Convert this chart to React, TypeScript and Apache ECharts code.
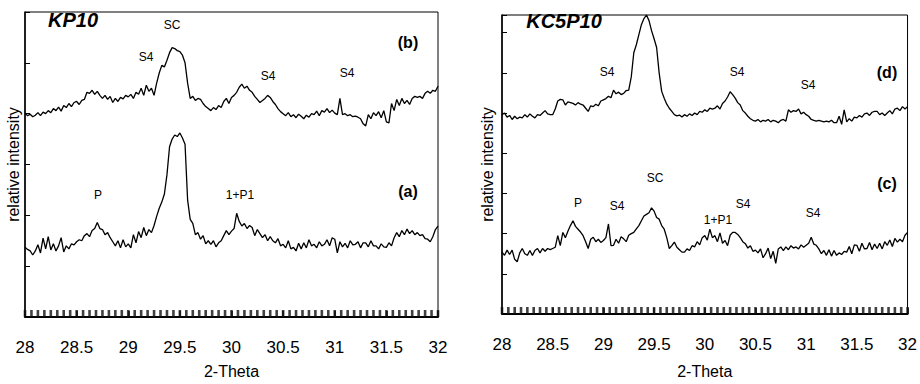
import React, { useEffect, useRef } from "react";
import * as echarts from "echarts";

// Sampling grid of 2-Theta (deg), step 0.025 from 28 to 32
const THETA: number[] = Array.from({ length: 161 }, (_, i) => +(28 + i * 0.025).toFixed(3));
// Positions of the dense inner ticks along the 2-Theta axis (every 1/16 deg)
const TICK_POS: number[] = Array.from({ length: 65 }, (_, i) => 28 + i * 0.0625);

// KP10 (b) upper trace
const KP10_B = [
  4.01, 3.96, 3.99, 3.94, 3.97, 4.02, 3.96, 4.03, 4.0, 4.06, 4.02, 4.1, 4.06, 4.13, 4.05, 4.16,
  4.12, 4.2, 4.14, 4.22, 4.24, 4.18, 4.26, 4.28, 4.42, 4.4, 4.46, 4.38, 4.44, 4.36, 4.3, 4.36,
  4.28, 4.34, 4.22, 4.3, 4.24, 4.32, 4.29, 4.36, 4.33, 4.38, 4.3, 4.42, 4.38, 4.5, 4.36, 4.56,
  4.44, 4.5, 4.36, 4.6, 4.8, 4.95, 4.92, 5.05, 5.2, 5.3, 5.28, 5.24, 5.22, 5.15, 5.0, 4.6,
  4.3, 4.34, 4.26, 4.3, 4.28, 4.2, 4.14, 4.1, 4.06, 4.12, 4.08, 4.16, 4.12, 4.24, 4.3, 4.2,
  4.32, 4.36, 4.42, 4.52, 4.58, 4.5, 4.54, 4.46, 4.42, 4.34, 4.28, 4.22, 4.26, 4.3, 4.36, 4.32,
  4.24, 4.18, 4.1, 4.04, 4.0, 3.96, 4.02, 3.94, 3.98, 3.92, 3.99, 3.95, 3.9, 3.97, 3.93, 4.0,
  3.98, 4.05, 3.96, 4.06, 4.03, 4.1, 4.02, 4.07, 4.01, 3.98, 4.3, 3.98, 4.0, 3.96, 3.98, 3.94,
  3.95, 3.93, 3.9, 3.8, 3.76, 3.98, 3.9, 4.02, 3.96, 4.04, 3.92, 4.06, 3.84, 3.82, 4.2, 4.06,
  4.28, 4.16, 4.3, 4.2, 4.26, 4.18, 4.3, 4.34, 4.32, 4.34, 4.3, 4.4, 4.44, 4.4, 4.46, 4.44,
  4.54,
];

// KP10 (a) lower trace
const KP10_A = [
  1.37, 1.33, 1.3, 1.22, 1.3, 1.42, 1.26, 1.55, 1.34, 1.58, 1.32, 1.44, 1.3, 1.4, 1.56, 1.28,
  1.4, 1.34, 1.44, 1.42, 1.48, 1.52, 1.5, 1.6, 1.64, 1.58, 1.7, 1.74, 1.86, 1.74, 1.72, 1.62,
  1.66, 1.56, 1.48, 1.4, 1.5, 1.36, 1.52, 1.38, 1.44, 1.36, 1.62, 1.46, 1.68, 1.56, 1.76, 1.6,
  1.72, 1.66, 1.8, 1.98, 2.14, 2.26, 2.42, 2.8, 3.35, 3.5, 3.58, 3.55, 3.62, 3.52, 3.4, 2.3,
  1.92, 1.84, 1.62, 1.66, 1.53, 1.6, 1.44, 1.5, 1.43, 1.5, 1.38, 1.46, 1.5, 1.6, 1.7, 1.62,
  1.69, 1.74, 2.04, 1.88, 1.79, 1.84, 1.74, 1.8, 1.76, 1.6, 1.72, 1.64, 1.56, 1.62, 1.5, 1.58,
  1.5, 1.46, 1.54, 1.4, 1.43, 1.36, 1.5, 1.34, 1.37, 1.3, 1.45, 1.34, 1.46, 1.36, 1.52, 1.4,
  1.43, 1.36, 1.48, 1.4, 1.43, 1.52, 1.4, 1.56, 1.53, 1.26, 1.48, 1.38, 1.45, 1.36, 1.5, 1.42,
  1.43, 1.48, 1.36, 1.46, 1.46, 1.38, 1.5, 1.4, 1.4, 1.34, 1.44, 1.38, 1.37, 1.46, 1.4, 1.56,
  1.66, 1.58, 1.7, 1.62, 1.73, 1.64, 1.7, 1.62, 1.66, 1.6, 1.62, 1.54, 1.53, 1.48, 1.58, 1.72,
  1.79,
];

// KC5P10 (d) upper trace
const KC5P10_D = [
  4.96, 5.0, 4.9, 4.94, 4.84, 4.92, 4.86, 4.9, 4.88, 4.96, 4.9, 4.98, 4.92, 4.88, 4.96, 4.94,
  5.0, 5.06, 4.98, 4.96, 4.96, 5.1, 5.3, 5.34, 5.33, 5.2, 5.28, 5.26, 5.24, 5.2, 5.26, 5.22,
  5.2, 5.12, 5.04, 5.18, 5.16, 5.22, 5.18, 5.3, 5.33, 5.36, 5.42, 5.38, 5.57, 5.48, 5.52, 5.46,
  5.49, 5.56, 5.57, 5.9, 6.5, 6.7, 6.95, 7.2, 7.35, 7.44, 7.3, 7.05, 6.85, 6.63, 6.0, 5.54,
  5.37, 5.22, 5.12, 5.04, 4.96, 4.93, 4.95, 4.9, 4.96, 4.92, 4.98, 4.94, 5.0, 4.96, 5.04, 5.02,
  5.08, 5.04, 5.12, 5.1, 5.12, 5.18, 5.1, 5.24, 5.3, 5.4, 5.53, 5.46, 5.37, 5.26, 5.2, 5.06,
  5.0, 4.92, 4.86, 4.82, 4.8, 4.84, 4.78, 4.82, 4.8, 4.84, 4.78, 4.82, 4.8, 4.76, 4.82, 4.84,
  4.8, 5.08, 5.02, 5.06, 5.04, 5.1, 4.98, 5.02, 4.96, 4.92, 4.84, 4.82, 4.8, 4.82, 4.8, 4.78,
  4.8, 4.78, 4.82, 4.76, 4.76, 4.92, 4.72, 5.08, 4.78, 4.86, 4.8, 4.9, 4.88, 4.94, 4.9, 4.98,
  5.0, 4.94, 5.02, 5.04, 5.04, 4.96, 5.0, 4.94, 5.0, 5.06, 4.98, 5.1, 5.12, 5.06, 5.16, 5.1,
  5.16,
];

// KC5P10 (c) lower trace
const KC5P10_C = [
  1.54, 1.46, 1.59, 1.48, 1.59, 1.36, 1.3, 1.52, 1.63, 1.5, 1.46, 1.58, 1.46, 1.58, 1.63, 1.52,
  1.63, 1.56, 1.63, 1.6, 1.63, 1.66, 1.95, 1.7, 2.03, 1.9, 2.06, 2.2, 2.32, 2.18, 2.11, 2.04,
  1.95, 1.8, 1.63, 1.86, 1.91, 1.8, 1.86, 1.78, 1.83, 1.9, 2.24, 1.7, 1.71, 1.86, 1.76, 1.92,
  1.87, 1.8, 1.96, 2.0, 2.03, 2.12, 2.2, 2.32, 2.44, 2.48, 2.52, 2.64, 2.56, 2.4, 2.36, 2.2,
  2.11, 1.9, 1.63, 1.7, 1.79, 1.66, 1.6, 1.54, 1.54, 1.62, 1.58, 1.7, 1.67, 1.8, 1.72, 1.9,
  1.95, 1.84, 2.11, 1.9, 1.95, 1.8, 2.02, 1.76, 1.83, 1.7, 1.96, 2.03, 2.03, 1.98, 1.9, 1.8,
  1.75, 1.64, 1.7, 1.56, 1.59, 1.52, 1.62, 1.4, 1.5, 1.64, 1.38, 1.56, 1.26, 1.62, 1.67, 1.58,
  1.67, 1.6, 1.7, 1.64, 1.67, 1.62, 1.72, 1.66, 1.71, 1.76, 1.91, 1.74, 1.71, 1.62, 1.5, 1.58,
  1.46, 1.6, 1.44, 1.58, 1.46, 1.52, 1.48, 1.56, 1.54, 1.68, 1.5, 1.72, 1.71, 1.56, 1.76, 1.62,
  1.63, 1.78, 1.6, 1.74, 1.63, 1.76, 1.62, 1.8, 1.71, 1.84, 1.68, 1.88, 1.79, 1.86, 1.8, 1.96,
  2.03,
];

const FONT = "'Liberation Sans', Arial, sans-serif";

type Note = { text: string; x: number; y: number; size?: number; bold?: boolean; italic?: boolean };

const NOTES: Note[] = [
  { text: "KP10", x: 73, y: 20, size: 20, bold: true, italic: true },
  { text: "SC", x: 172, y: 25 },
  { text: "S4", x: 146, y: 57 },
  { text: "S4", x: 268, y: 76 },
  { text: "S4", x: 347, y: 73 },
  { text: "(b)", x: 408, y: 42, size: 16, bold: true },
  { text: "P", x: 98, y: 195 },
  { text: "1+P1", x: 240, y: 195 },
  { text: "(a)", x: 408, y: 191, size: 16, bold: true },
  { text: "KC5P10", x: 564, y: 21, size: 20, bold: true, italic: true },
  { text: "S4", x: 607, y: 72 },
  { text: "S4", x: 737, y: 72 },
  { text: "S4", x: 808, y: 85 },
  { text: "(d)", x: 887, y: 72, size: 16, bold: true },
  { text: "SC", x: 655, y: 178 },
  { text: "(c)", x: 887, y: 183, size: 16, bold: true },
  { text: "P", x: 578, y: 203 },
  { text: "S4", x: 617, y: 206 },
  { text: "1+P1", x: 718, y: 220 },
  { text: "S4", x: 743, y: 204 },
  { text: "S4", x: 813, y: 213 },
];

function xAxisCfg(gridIndex: number, nameGap: number) {
  return {
    type: "value",
    gridIndex,
    min: 28,
    max: 32,
    interval: 0.5,
    name: "2-Theta",
    nameLocation: "middle",
    nameGap,
    nameTextStyle: { fontSize: 16, color: "#000", fontFamily: FONT },
    axisLine: { show: true, onZero: false, lineStyle: { color: "#000", width: 2 } },
    axisTick: { show: true, inside: true, length: 6, lineStyle: { color: "#000", width: 1.5 } },
    axisLabel: { show: true, margin: 22, fontSize: 17, color: "#000", fontFamily: FONT },
    splitLine: { show: false },
  };
}

function yAxisCfg(gridIndex: number, max: number, nameGap: number) {
  return {
    type: "value",
    gridIndex,
    min: 0,
    max,
    interval: 1,
    name: "relative intensity",
    nameLocation: "middle",
    nameGap,
    nameTextStyle: { fontSize: 16, color: "#000", fontFamily: FONT },
    axisLine: { show: true, lineStyle: { color: "#000", width: 1.5 } },
    axisTick: { show: true, inside: true, length: 5, lineStyle: { color: "#000", width: 1 } },
    axisLabel: { show: false },
    splitLine: { show: false },
  };
}

function lineSeries(x: number, y: number[]) {
  return {
    type: "line",
    xAxisIndex: x,
    yAxisIndex: x,
    data: THETA.map((t, i) => [t, y[i]]),
    showSymbol: false,
    symbol: "none",
    lineStyle: { color: "#000", width: 1.3 },
    silent: true,
  };
}

function tickBand(x: number) {
  return {
    type: "scatter",
    xAxisIndex: x,
    yAxisIndex: x,
    data: TICK_POS.map((t) => [t, 0]),
    symbol: "rect",
    symbolSize: [2.6, 7],
    symbolOffset: [0, -3.5],
    itemStyle: { color: "#111" },
    clip: false,
    silent: true,
    z: 5,
  };
}

export default function App() {
  const ref = useRef<HTMLDivElement>(null);
  useEffect(() => {
    if (!ref.current) return;
    const chart = echarts.init(ref.current, undefined, { renderer: "svg" });
    chart.setOption({
      animation: false,
      backgroundColor: "#fff",
      textStyle: { fontFamily: FONT },
      grid: [
        { left: 25, top: 12, width: 413, height: 306, show: true, borderColor: "#000", borderWidth: 1 },
        { left: 502, top: 15, width: 410, height: 305, show: true, borderColor: "#000", borderWidth: 1 },
      ],
      xAxis: [xAxisCfg(0, 46), xAxisCfg(1, 49)],
      yAxis: [yAxisCfg(0, 6, 4), yAxisCfg(1, 7.44, 7)],
      series: [
        lineSeries(0, KP10_B),
        lineSeries(0, KP10_A),
        lineSeries(1, KC5P10_D),
        lineSeries(1, KC5P10_C),
        tickBand(0),
        tickBand(1),
      ],
      graphic: NOTES.map((n) => ({
        type: "text",
        x: n.x,
        y: n.y,
        silent: true,
        z: 100,
        style: {
          text: n.text,
          fill: "#000",
          fontSize: n.size ?? 12,
          fontWeight: n.bold ? "bold" : "normal",
          fontStyle: n.italic ? "italic" : "normal",
          fontFamily: FONT,
          align: "center",
          verticalAlign: "middle",
        },
      })),
    });
    return () => chart.dispose();
  }, []);
  return (
    <div
      ref={ref}
      style={{ position: "fixed", left: 0, top: 0, width: 920, height: 384, background: "#fff" }}
    />
  );
}
